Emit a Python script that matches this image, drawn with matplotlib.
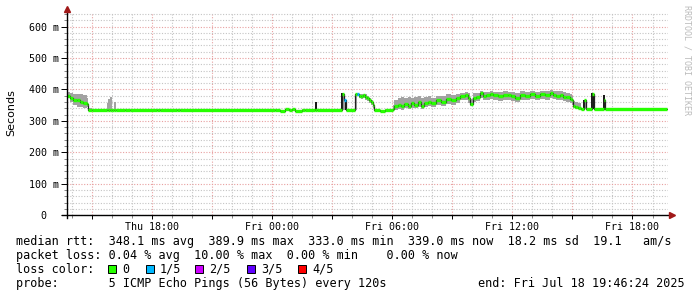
import numpy as np
import pandas as pd
import matplotlib
matplotlib.use("Agg")
import matplotlib.pyplot as plt
import matplotlib.dates as mdates
from matplotlib.patches import Rectangle

plt.rcParams['font.family'] = 'DejaVu Sans Mono'
plt.rcParams['lines.scale_dashes'] = False

# median rtt (ms) with smoke min/max
times = ["07-17 13:46", "07-17 13:55", "07-17 14:05", "07-17 14:15", "07-17 14:25",
         "07-17 14:35", "07-17 14:45", "07-17 14:50", "07-17 15:00", "07-17 15:45",
         "07-17 15:50", "07-17 15:55", "07-17 16:00", "07-17 16:08", "07-17 16:12",
         "07-17 16:40", "07-17 16:55", "07-17 18:15", "07-17 18:25", "07-17 19:15",
         "07-17 19:25", "07-18 00:10", "07-18 00:25", "07-18 00:40", "07-18 00:50",
         "07-18 01:00", "07-18 01:10", "07-18 01:30", "07-18 01:40", "07-18 02:09",
         "07-18 02:15", "07-18 03:30", "07-18 03:36", "07-18 03:42", "07-18 04:10",
         "07-18 04:15", "07-18 04:21", "07-18 04:27", "07-18 04:33", "07-18 04:39",
         "07-18 04:45", "07-18 04:51", "07-18 04:57", "07-18 05:03", "07-18 05:06",
         "07-18 05:25", "07-18 05:40", "07-18 06:02", "07-18 06:07", "07-18 06:17",
         "07-18 06:27", "07-18 06:37", "07-18 06:47", "07-18 06:57", "07-18 07:07",
         "07-18 07:17", "07-18 07:27", "07-18 07:37", "07-18 07:47", "07-18 07:57",
         "07-18 08:12", "07-18 08:27", "07-18 08:42", "07-18 08:57", "07-18 09:12",
         "07-18 09:22", "07-18 09:37", "07-18 09:47", "07-18 09:52", "07-18 10:02",
         "07-18 10:12", "07-18 10:22", "07-18 10:32", "07-18 10:42", "07-18 10:52",
         "07-18 11:02", "07-18 11:17", "07-18 11:32", "07-18 11:47", "07-18 11:57",
         "07-18 12:07", "07-18 12:22", "07-18 12:37", "07-18 12:52", "07-18 13:07",
         "07-18 13:22", "07-18 13:37", "07-18 13:52", "07-18 14:02", "07-18 14:12",
         "07-18 14:22", "07-18 14:32", "07-18 14:42", "07-18 14:52", "07-18 15:00",
         "07-18 15:02", "07-18 15:07", "07-18 15:17", "07-18 15:25", "07-18 15:36",
         "07-18 15:40", "07-18 16:00", "07-18 16:05", "07-18 16:34", "07-18 16:37",
         "07-18 19:44"]
median = [380, 374, 368, 365, 360, 356, 354, 336, 334, 334,
          334, 334, 334, 334, 334, 336, 334, 336, 334, 335,
          334, 336, 333, 337, 334, 337, 333, 336, 334, 334,
          334, 386, 365, 334, 384, 385, 380, 378, 381, 376,
          372, 366, 360, 352, 335, 332, 334, 337, 346, 351,
          346, 354, 348, 356, 351, 361, 346, 356, 361, 356,
          365, 361, 369, 367, 372, 380, 383, 372, 354, 372,
          377, 388, 380, 383, 386, 383, 380, 383, 383, 380,
          372, 383, 380, 386, 380, 386, 383, 388, 383, 380,
          383, 377, 375, 369, 365, 348, 344, 340, 339, 365,
          339, 386, 339, 367, 339, 339]
smoke_lo = [372, 360, 350, 344, 343, 340, 344, 333, 332, 332,
            332, 332, 332, 332, 332, 333, 332, 333, 332, 332,
            332, 333, 331, 334, 332, 334, 331, 333, 332, 332,
            332, 334, 334, 332, 334, 380, 372, 370, 372, 366,
            362, 356, 350, 340, 332, 330, 332, 333, 335, 338,
            336, 340, 337, 341, 340, 345, 338, 344, 347, 344,
            350, 348, 355, 352, 356, 365, 368, 358, 346, 360,
            364, 372, 366, 368, 370, 366, 364, 368, 366, 364,
            360, 368, 366, 370, 366, 370, 368, 372, 370, 368,
            366, 362, 360, 356, 350, 340, 338, 337, 337, 339,
            337, 339, 337, 339, 337, 337]
smoke_hi = [391, 388, 386, 385, 384, 381, 372, 340, 337, 356,
            371, 375, 337, 360, 337, 338, 337, 338, 337, 337,
            337, 338, 336, 339, 337, 339, 336, 338, 337, 360,
            337, 388, 367, 337, 386, 388, 386, 386, 387, 384,
            380, 372, 366, 358, 338, 335, 337, 350, 365, 372,
            375, 372, 376, 374, 377, 378, 372, 376, 378, 373,
            380, 378, 384, 382, 386, 390, 392, 388, 370, 388,
            390, 394, 392, 393, 394, 392, 391, 394, 393, 392,
            388, 394, 392, 396, 393, 396, 394, 398, 396, 394,
            395, 392, 390, 385, 380, 362, 361, 358, 342, 368,
            342, 390, 342, 383, 342, 342]

# dark smoke spikes: start, end, low, high
spike_start = ["07-18 02:09", "07-18 03:27", "07-18 03:40", "07-18 04:08",
               "07-18 15:33", "07-18 15:55", "07-18 16:33"]
spike_end = ["07-18 02:15", "07-18 03:33", "07-18 03:46", "07-18 04:12",
             "07-18 15:38", "07-18 16:04", "07-18 16:38"]
spike_lo = [334, 334, 334, 334, 339, 339, 339]
spike_hi = [360, 388, 366, 386, 367, 390, 383]

# median segments with 1/5 loss
loss_times = ["07-18 03:36", "07-18 04:15"]

loss_labels = ["0", "1/5", "2/5", "3/5", "4/5"]
loss_colors = ["#26ff00", "#00b8ff", "#cc00ff", "#6000ff", "#ff0000"]

def ts(s):
    return pd.to_datetime("2025-" + s)

t = [ts(s) for s in times]

W, H = 697, 297
fig = plt.figure(figsize=(W / 100, H / 100), dpi=100)
fig.patch.set_facecolor('white')

def fx(px):
    return px / W

def fy(py):
    return 1 - py / H

ax = fig.add_axes([fx(67), fy(215.3), (668 - 67) / W, (215.3 - 13) / H])
ax.set_facecolor('white')

ax.fill_between(t, smoke_lo, smoke_hi, step='post', color='#a2a2a2', lw=0, zorder=2)
for s0, s1, lo, hi in zip(spike_start, spike_end, spike_lo, spike_hi):
    ax.fill_between([ts(s0), ts(s1)], [lo, lo], [hi, hi], color='#1a1a1a', lw=0, zorder=3)
# connectors dark, level segments in loss colour
ax.step(t, median, where='post', color='#202020', lw=0.9, zorder=4)
seg_col = [loss_colors[1] if s in loss_times else loss_colors[0] for s in times[:-1]]
ax.hlines(median[:-1], t[:-1], t[1:], colors=seg_col, lw=2.4, zorder=5)

start = pd.Timestamp("2025-07-17 13:46:24")
end = pd.Timestamp("2025-07-18 19:46:24")
ax.set_xlim(start, end)
ax.set_ylim(0, 643)

ax.xaxis.set_major_locator(mdates.HourLocator(byhour=range(0, 24, 3)))
ax.xaxis.set_minor_locator(mdates.HourLocator())
ax.xaxis.set_major_formatter(plt.FuncFormatter(
    lambda v, p: mdates.num2date(v).strftime('%a %H:%M') if mdates.num2date(v).hour % 6 == 0 else ''))
ax.set_yticks(range(0, 601, 100))
ax.set_yticks(range(0, 641, 20), minor=True)
ax.set_yticklabels(["0  "] + ["%d m" % v for v in range(100, 601, 100)])

ax.grid(which='major', color='#e8a0a0', lw=0.8, linestyle=(0, (0.8, 1.2)))
ax.grid(which='minor', color='#c4c4c4', lw=0.8, linestyle=(0, (0.8, 1.2)))
ax.set_axisbelow(True)

for sp in ax.spines.values():
    sp.set_visible(False)
ax.tick_params(axis='both', which='both', labelsize=7.2, colors='black')
ax.tick_params(axis='y', which='major', length=4, width=0.7, pad=2)
ax.tick_params(axis='y', which='minor', length=2, width=0.5, color='#555555')
ax.tick_params(axis='x', which='major', length=3, width=0.7, pad=2)
ax.tick_params(axis='x', which='minor', length=2, width=0.5, color='#555555')

ax.plot([-0.008, 1.004], [0, 0], transform=ax.transAxes, color='black', lw=1, clip_on=False, zorder=6)
ax.plot([0, 0], [-0.015, 1.015], transform=ax.transAxes, color='black', lw=1, clip_on=False, zorder=6)
ax.plot([1.006], [0], marker='>', ms=4, color='#a01818', transform=ax.transAxes, clip_on=False, zorder=7)
ax.plot([0], [1.02], marker='^', ms=4, color='#a01818', transform=ax.transAxes, clip_on=False, zorder=7)

fig.text(fx(11), fy(113), 'Seconds', rotation=90, ha='center', va='center',
         fontsize=8, family='DejaVu Sans')
fig.text(fx(687), fy(5), 'RRDTOOL / TOBI OETIKER', rotation=270, ha='center', va='top',
         fontsize=6, color='#bbbbbb')

fs = 8.5
fig.text(fx(16), fy(245), "median rtt:  348.1 ms avg  389.9 ms max  333.0 ms min  339.0 ms now  18.2 ms sd  19.1   am/s",
         fontsize=fs, va='baseline')
fig.text(fx(16), fy(259), "packet loss: 0.04 % avg  10.00 % max  0.00 % min    0.00 % now",
         fontsize=fs, va='baseline')
fig.text(fx(16), fy(273), "loss color:", fontsize=fs, va='baseline')
sq_x = [108, 146, 195, 247, 298]
for x0, lab, col in zip(sq_x, loss_labels, loss_colors):
    fig.patches.append(Rectangle((fx(x0), fy(273)), 8 / W, 8 / H, transform=fig.transFigure,
                                 facecolor=col, edgecolor='black', lw=0.7, figure=fig))
    fig.text(fx(x0 + 14), fy(273), lab, fontsize=fs, va='baseline')
fig.text(fx(16), fy(287), "probe:       5 ICMP Echo Pings (56 Bytes) every 120s",
         fontsize=fs, va='baseline')
fig.text(fx(478), fy(287), "end: Fri Jul 18 19:46:24 2025", fontsize=fs, va='baseline')

fig.savefig("out.png", dpi=100)
